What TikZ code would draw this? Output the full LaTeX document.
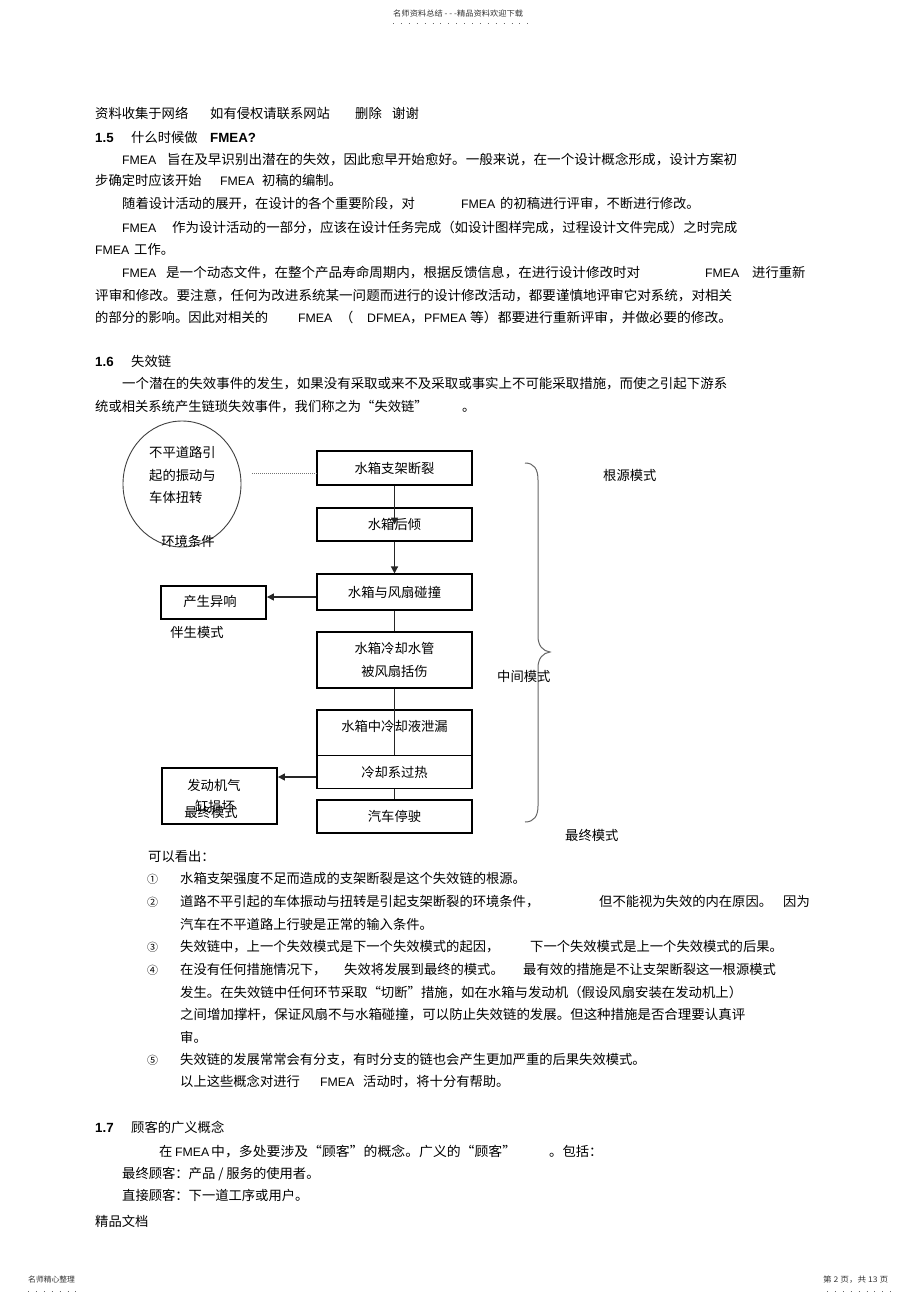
\documentclass[tikz,border=0pt]{standalone}
\usepackage{fontspec}
\setmainfont{Noto Sans CJK SC}
\newfontfamily\lat{Liberation Sans}
\usepackage{graphicx}
\usetikzlibrary{arrows.meta,shapes.geometric}
\newsavebox\fwbox
\newcommand\fw[2]{\sbox\fwbox{#2}\pgfmathsetmacro\fwfac{#1/\the\wd\fwbox}\scalebox{\fwfac}[1]{\usebox\fwbox}}
\tikzset{
  t/.style={anchor=west, inner sep=0pt, text height=11pt, text depth=2pt, font=\fontsize{13.3}{16}\selectfont},
  tc/.style={t, anchor=center},
  fm/.style={t, font=\lat\fontsize{12.3}{15}\selectfont},
  bd/.style={t, font=\lat\bfseries\fontsize{13.3}{16}\selectfont},
  cn/.style={t, font=\fontsize{11}{13}\selectfont},
  sm/.style={anchor=west, inner sep=0pt, text=black!80, font=\fontsize{7.8}{9}\selectfont},
  box/.style={draw, line width=1.1pt, minimum width=155pt, inner sep=0pt, align=center, font=\fontsize{13.3}{22.5}\selectfont},
  tbox/.style={draw, line width=1.9pt, inner sep=0pt, font=\fontsize{13.3}{16}\selectfont},
  ln/.style={line width=1.3pt, draw=black!85},
  arr/.style={ln, -{Triangle[length=7pt,width=7pt]}},
  dotrow/.style={line width=0.9pt, draw=black!60, dash pattern=on 0.9pt off 7pt},
}
\begin{document}
\begin{tikzpicture}[x=1pt,y=-1pt]
\fill[white] (0,0) rectangle (920,1303);
\useasboundingbox (0,0) rectangle (920,1303);

% header / footer
\node[sm] (hd) at (393,14) {\fw{130}{名师资料总结\ - - -精品资料欢迎下载}};
\draw[dotrow] (393,23) -- (528,23);
\node[sm] (fl) at (28,1280) {名师精心整理};
\draw[dotrow] (28,1291) -- (77,1291);
\node[sm] (fr) at (823,1280) {\fw{65}{第 2 页，共 13 页}};
\draw[dotrow] (827,1291) -- (892,1291);

% section 1.5
\node[t] (a1) at (95,114) {资料收集于网络};
\node[t] (a2) at (210,114) {如有侵权请联系网站};
\node[t] (a3) at (355,114) {删除};
\node[t] (a4) at (392,114) {谢谢};
\node[bd] (s15) at (95,138) {1.5};
\node[t] (s15t) at (131,138) {什么时候做};
\node[bd] (s15f) at (210,138) {FMEA?};
\node[fm] (p1f) at (122,160) {FMEA};
\node[t] (p1) at (167,160) {\fw{570}{旨在及早识别出潜在的失效，因此愈早开始愈好。一般来说，在一个设计概念形成，设计方案初}};
\node[t] (p2) at (95,181) {步确定时应该开始};
\node[fm] (p2f) at (220,181) {FMEA};
\node[t] (p2b) at (262,181) {初稿的编制。};
\node[t] (p3) at (122,204) {随着设计活动的展开，在设计的各个重要阶段，对};
\node[fm] (p3f) at (461,204) {FMEA};
\node[t] (p3b) at (500,204) {的初稿进行评审，不断进行修改。};
\node[fm] (p4f) at (122,228) {FMEA};
\node[t] (p4) at (172,228) {\fw{565}{作为设计活动的一部分，应该在设计任务完成（如设计图样完成，过程设计文件完成）之时完成}};
\node[fm] (p5f) at (95,250) {FMEA};
\node[t] (p5) at (134,250) {工作。};
\node[fm] (p6f) at (122,273) {FMEA};
\node[t] (p6) at (166,273) {\fw{474}{是一个动态文件，在整个产品寿命周期内，根据反馈信息，在进行设计修改时对}};
\node[fm] (p6g) at (705,273) {FMEA};
\node[t] (p6b) at (752,273) {进行重新};
\node[t] (p7) at (95,296) {\fw{637}{评审和修改。要注意，任何为改进系统某一问题而进行的设计修改活动，都要谨慎地评审它对系统，对相关}};
\node[t] (p8) at (95,318) {的部分的影响。因此对相关的};
\node[fm] (p8f) at (298,318) {FMEA};
\node[t] (p8p) at (340,318) {（};
\node[fm] (p8d) at (367,318) {DFMEA};
\node[t] (p8c) at (410,318) {，};
\node[fm] (p8e) at (424,318) {PFMEA};
\node[t] (p8b) at (470,318) {\fw{262}{等）都要进行重新评审，并做必要的修改。}};

% section 1.6
\node[bd] (s16) at (95,362) {1.6};
\node[t] (s16t) at (131,362) {失效链};
\node[t] (q1) at (122,384) {\fw{605}{一个潜在的失效事件的发生，如果没有采取或来不及采取或事实上不可能采取措施，而使之引起下游系}};
\node[t] (q2) at (95,407) {统或相关系统产生链琐失效事件，我们称之为“失效链”};
\node[t] (q2b) at (462,407) {。};

% diagram
\node[draw=black!75, line width=0.9pt, ellipse, minimum width=118pt, minimum height=126pt, inner sep=0pt] (env) at (182,484) {};
\node[t] (e1) at (149,453) {不平道路引};
\node[t] (e2) at (149,476) {起的振动与};
\node[t] (e3) at (149,498) {车体扭转};
\node[tc] (e4) at (188,542) {环境条件};

\node[box, minimum height=34pt] (b1) at (394.5,468) {水箱支架断裂};
\node[box, minimum height=33pt] (b2) at (394.5,524.5) {水箱后倾};
\node[box, minimum height=36pt] (b3) at (394.5,592) {水箱与风扇碰撞};
\node[box, minimum height=56pt] (b4) at (394.5,660) {水箱冷却水管\\被风扇括伤};
\node[box, minimum height=45.5pt] (b5) at (394.5,732.75) {};
\node[tc] (b5t) at (394.5,727) {水箱中冷却液泄漏};
\node[box, minimum height=33pt] (b6) at (394.5,772) {冷却系过热};
\node[box, minimum height=33pt] (b7) at (394.5,816.5) {汽车停驶};

\node[tbox, minimum width=105pt, minimum height=33pt] (noise) at (213.5,602.5) {};
\node[tc] (noiset) at (210,602) {产生异响};
\node[tc] (noisel) at (197,633) {伴生模式};

\node[tbox, minimum width=115pt, minimum height=56pt] (eng) at (219.5,796) {};
\node[tc] (eng1) at (214,786) {发动机气};
\node[tc] (eng2) at (215,807) {缸损坏};
\node[tc] (eng3) at (211,813) {最终模式};

\coordinate (dl) at (252,473);
\draw[line width=1pt, draw=black!55, densely dotted] (dl) -- (dl -| b1.west);

\draw[arr] (b1.south) -- (b2.center);
\draw[arr] (b2.south) -- (b3.north);
\draw[ln] (b3.south) -- (b4.north);
\draw[ln] (b4.south) -- (b6.north);
\draw[ln] (b6.south) -- (b7.north);
\draw[arr] ([yshift=-5pt]b3.west) -- ([yshift=-5pt]b3.west -| noise.east);
\draw[arr] ([yshift=-5pt]b6.west) -- ([yshift=-5pt]b6.west -| eng.east);

\draw[line width=1pt, draw=black!60]
  (525,463) .. controls (534,463) and (538,469) .. (538,480)
  -- (538,636) .. controls (538,646) and (543,651) .. (550,652)
  .. controls (543,653) and (538,658) .. (538,668)
  -- (538,806) .. controls (538,816) and (534,822) .. (525,822);

\node[t] (m1) at (603,476) {根源模式};
\node[t] (m2) at (497,677) {中间模式};
\node[t] (m3) at (565,836) {最终模式};

% conclusions
\node[t] (c0) at (148,857) {可以看出：};
\node[cn] (n1) at (147,879) {①};
\node[t] (c1) at (180,879) {水箱支架强度不足而造成的支架断裂是这个失效链的根源。};
\node[cn] (n2) at (147,902) {②};
\node[t] (c2) at (180,902) {道路不平引起的车体振动与扭转是引起支架断裂的环境条件，};
\node[t] (c2b) at (599,902) {但不能视为失效的内在原因。};
\node[t] (c2c) at (783,902) {因为};
\node[t] (c2d) at (180,925) {汽车在不平道路上行驶是正常的输入条件。};
\node[cn] (n3) at (147,947) {③};
\node[t] (c3) at (180,947) {失效链中，上一个失效模式是下一个失效模式的起因，};
\node[t] (c3b) at (530,947) {下一个失效模式是上一个失效模式的后果。};
\node[cn] (n4) at (147,970) {④};
\node[t] (c4) at (180,970) {在没有任何措施情况下，};
\node[t] (c4b) at (344,970) {失效将发展到最终的模式。};
\node[t] (c4c) at (523,970) {最有效的措施是不让支架断裂这一根源模式};
\node[t] (c4d) at (180,993) {\fw{562}{发生。在失效链中任何环节采取“切断”措施，如在水箱与发动机（假设风扇安装在发动机上）}};
\node[t] (c4e) at (180,1015) {\fw{565}{之间增加撑杆，保证风扇不与水箱碰撞，可以防止失效链的发展。但这种措施是否合理要认真评}};
\node[t] (c4f) at (180,1038) {审。};
\node[cn] (n5) at (147,1060) {⑤};
\node[t] (c5) at (180,1060) {失效链的发展常常会有分支，有时分支的链也会产生更加严重的后果失效模式。};
\node[t] (c6) at (180,1082) {以上这些概念对进行};
\node[fm] (c6f) at (320,1082) {FMEA};
\node[t] (c6b) at (363,1082) {活动时，将十分有帮助。};

% section 1.7
\node[bd] (s17) at (95,1128) {1.7};
\node[t] (s17t) at (131,1128) {顾客的广义概念};
\node[t] (r1) at (159,1152) {在};
\node[fm] (r1f) at (175,1152) {FMEA};
\node[t] (r1b) at (211,1152) {\fw{305}{中，多处要涉及“顾客”的概念。广义的“顾客”}};
\node[t] (r1c) at (549,1152) {。包括：};
\node[t] (r2) at (122,1174) {最终顾客：产品 / 服务的使用者。};
\node[t] (r3) at (122,1196) {直接顾客：下一道工序或用户。};
\node[t] (r4) at (95,1222) {精品文档};
\end{tikzpicture}
\end{document}
